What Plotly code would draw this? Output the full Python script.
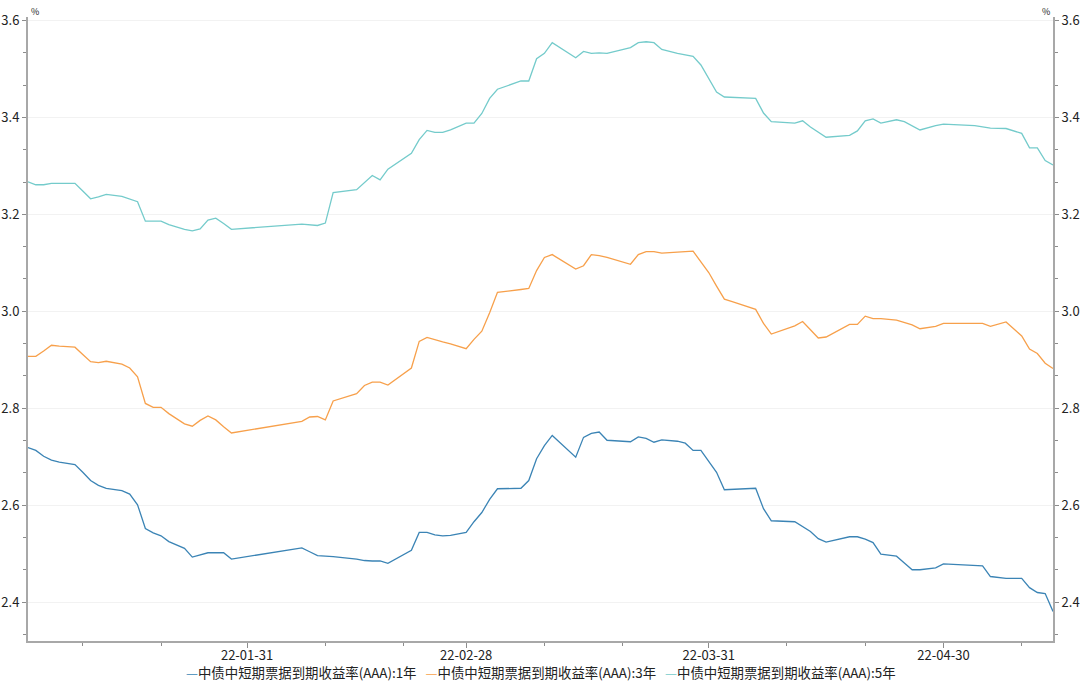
import plotly.graph_objects as go

dates = [
    "2022-01-03", "2022-01-04", "2022-01-05", "2022-01-06", "2022-01-07", "2022-01-09",
    "2022-01-10", "2022-01-11", "2022-01-12", "2022-01-13", "2022-01-15", "2022-01-16",
    "2022-01-17", "2022-01-18", "2022-01-19", "2022-01-20", "2022-01-21", "2022-01-23",
    "2022-01-24", "2022-01-25", "2022-01-26", "2022-01-27", "2022-01-28", "2022-01-29",
    "2022-02-07", "2022-02-08", "2022-02-09", "2022-02-10", "2022-02-11", "2022-02-14",
    "2022-02-15", "2022-02-16", "2022-02-17", "2022-02-18", "2022-02-21", "2022-02-22",
    "2022-02-23", "2022-02-24", "2022-02-25", "2022-02-26", "2022-02-28", "2022-03-01",
    "2022-03-02", "2022-03-03", "2022-03-04", "2022-03-07", "2022-03-08", "2022-03-09",
    "2022-03-10", "2022-03-11", "2022-03-14", "2022-03-15", "2022-03-16", "2022-03-17",
    "2022-03-18", "2022-03-21", "2022-03-22", "2022-03-23", "2022-03-24", "2022-03-25",
    "2022-03-27", "2022-03-28", "2022-03-29", "2022-03-30", "2022-03-31", "2022-04-01",
    "2022-04-02", "2022-04-03", "2022-04-06", "2022-04-07", "2022-04-08", "2022-04-11",
    "2022-04-12", "2022-04-13", "2022-04-14", "2022-04-15", "2022-04-18", "2022-04-19",
    "2022-04-20", "2022-04-21", "2022-04-22", "2022-04-24", "2022-04-25", "2022-04-26",
    "2022-04-27", "2022-04-29", "2022-04-30", "2022-05-04", "2022-05-05", "2022-05-06",
    "2022-05-08", "2022-05-10", "2022-05-11", "2022-05-12", "2022-05-13", "2022-05-14",
]

yield_1y = [
    2.719, 2.713, 2.701, 2.693, 2.689, 2.684, 2.668, 2.651, 2.641, 2.635, 2.630, 2.623,
    2.601, 2.552, 2.543, 2.537, 2.525, 2.511, 2.493, 2.497, 2.502, 2.502, 2.502, 2.489,
    2.512, 2.504, 2.496, 2.495, 2.494, 2.489, 2.486, 2.485, 2.485, 2.480, 2.507, 2.544,
    2.544, 2.539, 2.537, 2.538, 2.544, 2.566, 2.585, 2.612, 2.634, 2.635, 2.651, 2.696,
    2.723, 2.744, 2.699, 2.740, 2.748, 2.751, 2.734, 2.731, 2.741, 2.738, 2.730, 2.735,
    2.732, 2.728, 2.713, 2.713, 2.690, 2.668, 2.632, 2.633, 2.635, 2.593, 2.568, 2.566,
    2.556, 2.546, 2.531, 2.524, 2.535, 2.535, 2.530, 2.523, 2.499, 2.495, 2.481, 2.467,
    2.467, 2.471, 2.479, 2.476, 2.475, 2.453, 2.449, 2.449, 2.430, 2.420, 2.418, 2.381,
]

yield_3y = [
    2.907, 2.907, 2.918, 2.930, 2.928, 2.926, 2.911, 2.896, 2.894, 2.897, 2.891, 2.883,
    2.865, 2.810, 2.802, 2.802, 2.789, 2.768, 2.763, 2.775, 2.784, 2.776, 2.762, 2.749,
    2.773, 2.782, 2.783, 2.776, 2.815, 2.830, 2.847, 2.854, 2.854, 2.848, 2.883, 2.938,
    2.946, 2.941, 2.937, 2.933, 2.923, 2.942, 2.959, 2.997, 3.039, 3.045, 3.047, 3.084,
    3.111, 3.117, 3.087, 3.094, 3.117, 3.115, 3.111, 3.097, 3.117, 3.123, 3.123, 3.120,
    3.121, 3.123, 3.124, 3.101, 3.080, 3.052, 3.025, 3.020, 3.004, 2.975, 2.953, 2.970,
    2.979, 2.962, 2.945, 2.947, 2.973, 2.973, 2.990, 2.985, 2.985, 2.982, 2.977, 2.972,
    2.964, 2.969, 2.975, 2.975, 2.975, 2.969, 2.978, 2.949, 2.922, 2.913, 2.893, 2.882,
]

yield_5y = [
    3.267, 3.261, 3.261, 3.264, 3.264, 3.264, 3.248, 3.232, 3.236, 3.241, 3.237, 3.232,
    3.226, 3.186, 3.186, 3.186, 3.179, 3.169, 3.166, 3.170, 3.188, 3.192, 3.181, 3.169,
    3.180, 3.179, 3.177, 3.182, 3.245, 3.251, 3.266, 3.280, 3.271, 3.293, 3.326, 3.354,
    3.373, 3.369, 3.369, 3.374, 3.388, 3.388, 3.408, 3.439, 3.458, 3.475, 3.475, 3.521,
    3.532, 3.554, 3.523, 3.536, 3.532, 3.533, 3.532, 3.544, 3.554, 3.556, 3.554, 3.540,
    3.532, 3.529, 3.526, 3.508, 3.480, 3.452, 3.442, 3.441, 3.439, 3.409, 3.391, 3.388,
    3.393, 3.380, 3.369, 3.359, 3.363, 3.372, 3.393, 3.397, 3.388, 3.395, 3.391, 3.382,
    3.374, 3.383, 3.386, 3.383, 3.381, 3.378, 3.377, 3.367, 3.337, 3.337, 3.311, 3.302,
]

series_names = [
    "中债中短期票据到期收益率(AAA):1年",
    "中债中短期票据到期收益率(AAA):3年",
    "中债中短期票据到期收益率(AAA):5年",
]
series_colors = ["#3b84b5", "#f7a04b", "#74cbcb"]

x_major_ticks = ["2022-01-31", "2022-02-28", "2022-03-31", "2022-04-30"]
x_minor_ticks = ["2022-01-10", "2022-01-20", "2022-02-10", "2022-02-20", "2022-03-10",
                 "2022-03-20", "2022-04-10", "2022-04-20", "2022-05-10"]
y_ticks = [2.4, 2.6, 2.8, 3.0, 3.2, 3.4, 3.6]
y_range = [2.32, 3.607]
unit_label = "%"

FONT = "Noto Sans CJK SC, Noto Sans, sans-serif"

fig = go.Figure()
for vals, name, color, yax in zip([yield_1y, yield_3y, yield_5y], series_names,
                                  series_colors, ["y", "y", "y2"]):
    fig.add_trace(go.Scatter(x=dates, y=vals, mode="lines", name=name, yaxis=yax,
                             showlegend=False,
                             line=dict(color=color, width=1.3)))

axis_line = "#a8a8a8"
tick_col = "#8c8c8c"
y_common = dict(
    range=y_range, tickmode="array", tickvals=y_ticks, tickformat=".1f",
    ticks="outside", ticklen=4, tickcolor=tick_col, tickwidth=1,
    showline=True, linecolor=axis_line, linewidth=2, zeroline=False,
    automargin=False,
    tickfont=dict(size=13, color="#222222", family=FONT),
    minor=dict(tickmode="linear", tick0=2.4, dtick=0.2 / 3, ticks="outside",
               ticklen=3, tickcolor=tick_col, showgrid=False),
)

# legend drawn as one centred line of text with coloured dash keys
sep = "\u00a0\u00a0\u00a0"
legend_text = sep.join(
    f"<span style='color:{c}'>—</span>{n}" for n, c in zip(series_names, series_colors)
)

fig.update_layout(
    template="none",
    width=1080, height=684,
    margin=dict(l=28, r=27, t=17, b=43, autoexpand=False),
    paper_bgcolor="white", plot_bgcolor="white",
    font=dict(family=FONT, color="#222222"),
    xaxis=dict(
        type="date", range=[dates[0], dates[-1]],
        tickmode="array", tickvals=x_major_ticks, tickformat="%y-%m-%d",
        ticks="outside", ticklen=5, tickcolor=tick_col, ticklabelstandoff=-4,
        showline=True, linecolor=axis_line, linewidth=2,
        showgrid=False, zeroline=False, automargin=False,
        tickfont=dict(size=13, color="#222222", family=FONT),
        minor=dict(tickmode="array", tickvals=x_minor_ticks, ticks="outside",
                   ticklen=3, tickcolor=tick_col, showgrid=False),
    ),
    yaxis=dict(side="left", showgrid=True, gridcolor="#f2f2f2", gridwidth=1, **y_common),
    yaxis2=dict(side="right", overlaying="y", showgrid=False, **y_common),
    annotations=[
        dict(text=unit_label, xref="paper", yref="paper", x=0, y=1, xanchor="left",
             yanchor="bottom", showarrow=False, xshift=1, yshift=-3,
             font=dict(size=9, color="#222222", family=FONT)),
        dict(text=unit_label, xref="paper", yref="paper", x=1, y=1, xanchor="right",
             yanchor="bottom", showarrow=False, xshift=-1, yshift=-3,
             font=dict(size=9, color="#222222", family=FONT)),
        dict(text=legend_text, xref="paper", yref="paper", x=0.5, y=-0.0497,
             xanchor="center", yanchor="middle", showarrow=False,
             font=dict(size=13.4, color="#222222", family=FONT)),
    ],
)

fig.write_html("out.html")
